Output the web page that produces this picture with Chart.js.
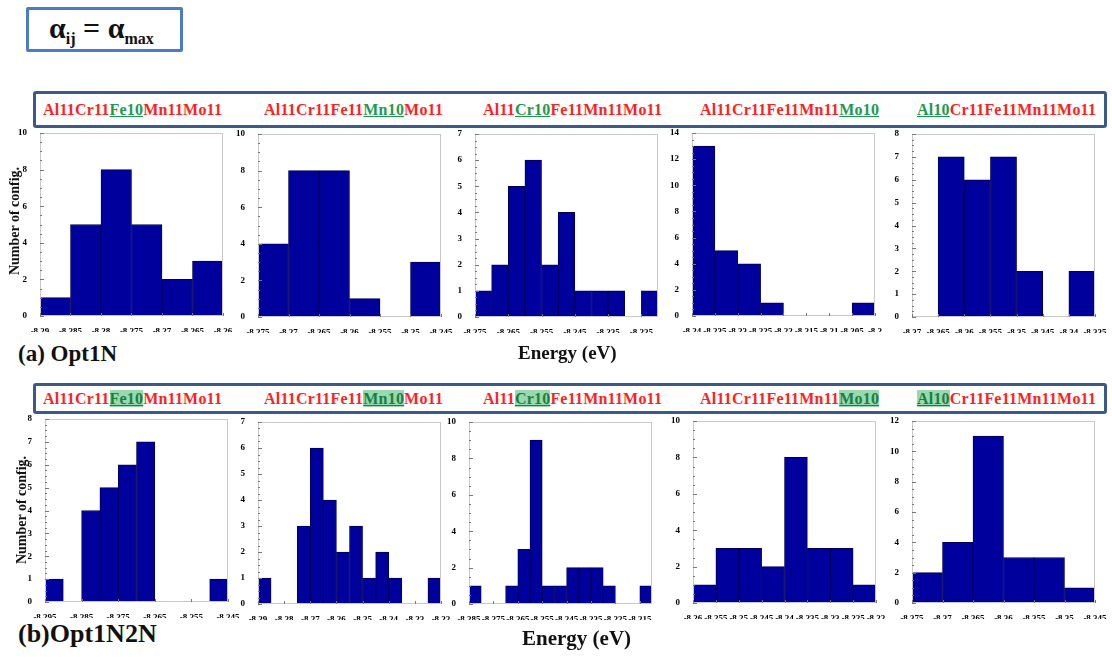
<!DOCTYPE html>
<html><head><meta charset="utf-8">
<script src="https://cdn.jsdelivr.net/npm/chart.js@4.4.0/dist/chart.umd.min.js"></script>
<style>
body{margin:0;width:1112px;height:657px;background:#fff;position:relative;overflow:hidden;font-family:"Liberation Serif",serif;}
canvas{position:absolute}
.hdr{position:absolute;border:3px solid #3c5a88;border-radius:3px;box-sizing:border-box}
.lab{position:absolute;font-family:"Liberation Serif",serif;font-weight:bold;font-size:16px;color:#ff1f1f;white-space:nowrap;line-height:1;letter-spacing:0.2px}
.g{color:#1e9a50;text-decoration:underline}
.gb{color:#17803f;text-decoration:underline;background:#9ad8b0}
.txt{position:absolute;font-weight:bold;white-space:nowrap;line-height:1;color:#111}
.alpha{position:absolute;left:26px;top:7px;width:157px;height:45px;border:3px solid #4a7cc8;box-sizing:border-box;border-radius:2px}
</style></head>
<body>
<div class="alpha"></div>
<div class="txt" style="left:49px;top:13px;font-size:30px;">α<sub style="font-size:16px;vertical-align:-6px">ij</sub> = α<sub style="font-size:16px;vertical-align:-6px">max</sub></div>
<div class="hdr" style="left:33px;top:91px;width:1074px;height:37px"></div>
<div class="hdr" style="left:33px;top:383px;width:1074px;height:31px"></div>
<div id="root"></div>
<div class="txt" style="left:18px;top:342px;font-size:23px;">(a) Opt1N</div>
<div class="txt" style="left:518px;top:343px;font-size:19px;">Energy (eV)</div>
<div class="txt" style="left:18px;top:621px;font-size:26px;">(b)Opt1N2N</div>
<div class="txt" style="left:522px;top:628px;font-size:21px;">Energy (eV)</div>
<div class="txt" style="left:15px;top:221px;font-size:14px;transform:translate(-50%,-50%) rotate(-90deg);">Number of config.</div>
<div class="txt" style="left:22px;top:510px;font-size:14px;transform:translate(-50%,-50%) rotate(-90deg);">Number of config.</div>
<script>
// ---- panel titles: [before, highlighted, after]
const titles = [
  ["Al11Cr11", "Fe10", "Mn11Mo11"],
  ["Al11Cr11Fe11", "Mn10", "Mo11"],
  ["Al11", "Cr10", "Fe11Mn11Mo11"],
  ["Al11Cr11Fe11Mn11", "Mo10", ""],
  ["", "Al10", "Cr11Fe11Mn11Mo11"]
];

// ---- row (a) Opt1N
const a1Bins = [-8.2875, -8.2825, -8.2775, -8.2725, -8.2675, -8.2625];
const a1Counts = [1, 5, 8, 5, 2, 3];
const a1Ticks = [-8.29, -8.285, -8.28, -8.275, -8.27, -8.265, -8.26];
const a1Range = [-8.29, -8.26];
const a1YTicks = [10, 2];

const a2Bins = [-8.2725, -8.2675, -8.2625, -8.2575, -8.2525, -8.2475];
const a2Counts = [4, 8, 8, 1, 0, 3];
const a2Ticks = [-8.275, -8.27, -8.265, -8.26, -8.255, -8.25, -8.245];
const a2Range = [-8.275, -8.245];
const a2YTicks = [10, 2];

const a3Bins = [-8.2725, -8.2675, -8.2625, -8.2575, -8.2525, -8.2475, -8.2425, -8.2375, -8.2325, -8.2275, -8.2225];
const a3Counts = [1, 2, 5, 6, 2, 4, 1, 1, 1, 0, 1];
const a3Ticks = [-8.275, -8.265, -8.255, -8.245, -8.235, -8.225];
const a3Range = [-8.275, -8.22];
const a3YTicks = [7, 1];

const a4Bins = [-8.2375, -8.2325, -8.2275, -8.2225, -8.2175, -8.2125, -8.2075, -8.2025];
const a4Counts = [13, 5, 4, 1, 0, 0, 0, 1];
const a4Ticks = [-8.24, -8.235, -8.23, -8.225, -8.22, -8.215, -8.21, -8.205, -8.2];
const a4Range = [-8.24, -8.2];
const a4YTicks = [14, 2];

const a5Bins = [-8.3675, -8.3625, -8.3575, -8.3525, -8.3475, -8.3425, -8.3375];
const a5Counts = [0, 7, 6, 7, 2, 0, 2];
const a5Ticks = [-8.37, -8.365, -8.36, -8.355, -8.35, -8.345, -8.34, -8.335];
const a5Range = [-8.37, -8.335];
const a5YTicks = [8, 1];

// ---- row (b) Opt1N2N
const b1Bins = [-8.2925, -8.2875, -8.2825, -8.2775, -8.2725, -8.2675, -8.2625, -8.2575, -8.2525, -8.2475];
const b1Counts = [1, 0, 4, 5, 6, 7, 0, 0, 0, 1];
const b1Ticks = [-8.295, -8.285, -8.275, -8.265, -8.255, -8.245];
const b1Range = [-8.295, -8.245];
const b1YTicks = [8, 1];

const b2Bins = [-8.2875, -8.2825, -8.2775, -8.2725, -8.2675, -8.2625, -8.2575, -8.2525, -8.2475, -8.2425, -8.2375, -8.2325, -8.2275, -8.2225];
const b2Counts = [1, 0, 0, 3, 6, 4, 2, 3, 1, 2, 1, 0, 0, 1];
const b2Ticks = [-8.29, -8.28, -8.27, -8.26, -8.25, -8.24, -8.23, -8.22];
const b2Range = [-8.29, -8.22];
const b2YTicks = [7, 1];

const b3Bins = [-8.2825, -8.2775, -8.2725, -8.2675, -8.2625, -8.2575, -8.2525, -8.2475, -8.2425, -8.2375, -8.2325, -8.2275, -8.2225, -8.2175, -8.2125];
const b3Counts = [1, 0, 0, 1, 3, 9, 1, 1, 2, 2, 2, 1, 0, 0, 1];
const b3Ticks = [-8.285, -8.275, -8.265, -8.255, -8.245, -8.235, -8.225, -8.215];
const b3Range = [-8.285, -8.21];
const b3YTicks = [10, 2];

const b4Bins = [-8.2575, -8.2525, -8.2475, -8.2425, -8.2375, -8.2325, -8.2275, -8.2225];
const b4Counts = [1, 3, 3, 2, 8, 3, 3, 1];
const b4Ticks = [-8.26, -8.255, -8.25, -8.245, -8.24, -8.235, -8.23, -8.225, -8.22];
const b4Range = [-8.26, -8.22];
const b4YTicks = [10, 2];

const b5Bins = [-8.3725, -8.3675, -8.3625, -8.3575, -8.3525, -8.3475];
const b5Counts = [2, 4, 11, 3, 3, 1];
const b5Ticks = [-8.375, -8.37, -8.365, -8.36, -8.355, -8.35, -8.345];
const b5Range = [-8.375, -8.345];
const b5YTicks = [12, 2];

const panels = [
  {bins:a1Bins,counts:a1Counts,ticks:a1Ticks,range:a1Range,y:a1YTicks, pos:[40,133,183,183]},
  {bins:a2Bins,counts:a2Counts,ticks:a2Ticks,range:a2Range,y:a2YTicks, pos:[258,134,183,183]},
  {bins:a3Bins,counts:a3Counts,ticks:a3Ticks,range:a3Range,y:a3YTicks, pos:[475,134,183,183]},
  {bins:a4Bins,counts:a4Counts,ticks:a4Ticks,range:a4Range,y:a4YTicks, pos:[692,133,183,183]},
  {bins:a5Bins,counts:a5Counts,ticks:a5Ticks,range:a5Range,y:a5YTicks, pos:[912,134,183,183]},
  {bins:b1Bins,counts:b1Counts,ticks:b1Ticks,range:b1Range,y:b1YTicks, pos:[45,419,183,183]},
  {bins:b2Bins,counts:b2Counts,ticks:b2Ticks,range:b2Range,y:b2YTicks, pos:[258,422,183,182]},
  {bins:b3Bins,counts:b3Counts,ticks:b3Ticks,range:b3Range,y:b3YTicks, pos:[469,422,183,182]},
  {bins:b4Bins,counts:b4Counts,ticks:b4Ticks,range:b4Range,y:b4YTicks, pos:[693,421,183,182]},
  {bins:b5Bins,counts:b5Counts,ticks:b5Ticks,range:b5Range,y:b5YTicks, pos:[912,421,183,182]}
];

const labelX = [43, 264, 483, 700, 917];
const labelTop = [102, 391];

const root = document.getElementById('root');
labelTop.forEach((top, r) => {
  titles.forEach((t, i) => {
    const d = document.createElement('div');
    d.className = 'lab';
    d.style.left = labelX[i] + 'px';
    d.style.top = top + 'px';
    const cls = r === 0 ? 'g' : 'gb';
    d.innerHTML = t[0] + '<span class="' + cls + '">' + t[1] + '</span>' + t[2];
    root.appendChild(d);
  });
});

const framePlugin = {
  id: 'frame',
  afterDraw(chart) {
    const {ctx, chartArea: a, scales} = chart;
    ctx.save();
    ctx.strokeStyle = '#c8c8c8';
    ctx.lineWidth = 1;
    ctx.strokeRect(a.left + 0.5, a.top + 0.5, a.width - 1, a.height - 1);
    const y = scales.y;
    const st = y.options.ticks.stepSize;
    const sub = st / 4;
    ctx.strokeStyle = '#777';
    for (let k = 0; k * sub <= y.max + 1e-9; k++) {
      const v = k * sub;
      const p = Math.round(y.getPixelForValue(v)) + 0.5;
      const major = k % 4 === 0;
      ctx.beginPath();
      ctx.moveTo(a.left, p);
      ctx.lineTo(a.left + (major ? 4 : 2), p);
      ctx.stroke();
    }
    const x = scales.x;
    x.ticks.forEach(t => {
      const p = Math.round(x.getPixelForValue(t.value)) + 0.5;
      ctx.beginPath();
      ctx.moveTo(p, a.bottom);
      ctx.lineTo(p, a.bottom - 3);
      ctx.stroke();
    });
    ctx.restore();
  }
};

const tickFont = {family: 'Liberation Serif', size: 9, weight: 'bold'};

panels.forEach(p => {
  const [L, T, W, H] = p.pos;
  const padL = 30, padT = 8, padR = 20, padB = 16;
  const c = document.createElement('canvas');
  c.width = W + padL + padR;
  c.height = H + padT + padB;
  c.style.left = (L - padL) + 'px';
  c.style.top = (T - padT) + 'px';
  c.style.width = c.width + 'px';
  c.style.height = c.height + 'px';
  root.appendChild(c);
  new Chart(c, {
    type: 'bar',
    data: {
      datasets: [{
        data: p.bins.map((b, i) => ({x: b, y: p.counts[i]})),
        backgroundColor: '#00009c',
        borderColor: '#00005a',
        borderWidth: 1,
        borderSkipped: 'start',
        barPercentage: 1,
        categoryPercentage: 1
      }]
    },
    options: {
      responsive: false,
      animation: false,
      events: [],
      layout: {padding: {left: 0, top: padT, right: padR, bottom: 0}},
      plugins: {legend: {display: false}, tooltip: {enabled: false}},
      scales: {
        x: {
          type: 'linear',
          offset: false,
          min: p.range[0],
          max: p.range[1],
          grid: {display: false, offset: false},
          border: {display: false},
          afterBuildTicks: s => { s.ticks = p.ticks.map(v => ({value: v})); },
          afterFit: s => { s.height = padB; s.paddingLeft = 0; s.paddingRight = 0; },
          ticks: {
            autoSkip: false, maxRotation: 0, minRotation: 0, padding: 2,
            font: tickFont, color: '#000',
            callback: v => String(+(+v).toFixed(4))
          }
        },
        y: {
          min: 0,
          max: p.y[0],
          grid: {display: false},
          border: {display: false},
          afterFit: s => { s.width = padL; s.paddingTop = 0; s.paddingBottom = 0; },
          ticks: {stepSize: p.y[1], padding: 5, font: tickFont, color: '#000'}
        }
      }
    },
    plugins: [framePlugin]
  });
});
</script>
</body></html>
